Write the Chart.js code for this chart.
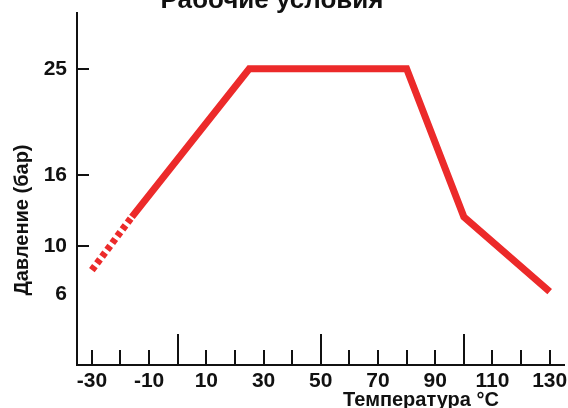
<!DOCTYPE html>
<html>
<head>
<meta charset="utf-8">
<script src="https://cdn.jsdelivr.net/npm/chart.js@4.4.1/dist/chart.umd.min.js"></script>
<style>
    html, body { margin: 0; padding: 0; background: #fff; }
    #wrap { width: 568px; height: 408px; position: relative; }
</style>
</head>
<body>
<div id="wrap"><canvas id="chart"></canvas></div>
<script>
// --- Data ---
const temps = [-30, -16, 25, 80, 100, 130];
const pressures = [8, 12.5, 25, 25, 12.5, 6.2];
const xLabelTicks = [-30, -10, 10, 30, 50, 70, 90, 110, 130];
const yLabelTicks = [6, 10, 16, 25];
const yTickMarks = [10, 16, 25];
const xMinorMarks = [-30, -20, -10, 10, 20, 30, 40, 60, 70, 80, 90, 110, 120, 130];
const xMajorMarks = [0, 50, 100];

const chartTitle = 'Рабочие условия';
const xTitle = 'Температура °C';
const yTitle = 'Давление (бар)';

const ink = '#111';
const red = '#ec2a2a';
const font = '"Liberation Sans", Arial, sans-serif';

// Draws the inward tick marks and the titles
const decor = {
    id: 'decor',
    afterDraw(chart) {
        const { ctx, chartArea, scales } = chart;
        const x = scales.x, y = scales.y;
        ctx.save();
        ctx.strokeStyle = ink;
        ctx.lineWidth = 2;
        ctx.beginPath();
        xMinorMarks.forEach(v => {
            const px = Math.round(x.getPixelForValue(v));
            ctx.moveTo(px, chartArea.bottom);
            ctx.lineTo(px, chartArea.bottom - 15);
        });
        xMajorMarks.forEach(v => {
            const px = Math.round(x.getPixelForValue(v));
            ctx.moveTo(px, chartArea.bottom);
            ctx.lineTo(px, chartArea.bottom - 31);
        });
        yTickMarks.forEach(v => {
            const py = Math.round(y.getPixelForValue(v));
            ctx.moveTo(chartArea.left, py);
            ctx.lineTo(chartArea.left + 12, py);
        });
        ctx.stroke();

        ctx.fillStyle = ink;
        ctx.textAlign = 'center';
        ctx.textBaseline = 'alphabetic';
        ctx.font = 'bold 26px ' + font;
        ctx.fillText(chartTitle, 272, 8);

        ctx.font = 'bold 20px ' + font;
        ctx.fillText(xTitle, 421, 406);

        ctx.translate(28, 220);
        ctx.rotate(-Math.PI / 2);
        ctx.font = 'bold 20px ' + font;
        ctx.fillText(yTitle, 0, 0);
        ctx.restore();
    }
};

new Chart(document.getElementById('chart'), {
    type: 'line',
    data: {
        datasets: [{
            data: temps.map((t, i) => ({ x: t, y: pressures[i] })),
            borderColor: red,
            borderWidth: 7,
            borderCapStyle: 'butt',
            borderJoinStyle: 'miter',
            pointRadius: 0,
            tension: 0,
            segment: {
                borderDash: ctx => ctx.p0DataIndex === 0 ? [5, 3.5] : undefined
            }
        }]
    },
    options: {
        responsive: true,
        maintainAspectRatio: false,
        animation: false,
        layout: { padding: { top: 13, right: 4, left: 0, bottom: 0 } },
        plugins: {
            legend: { display: false },
            tooltip: { enabled: false },
            title: { display: false }
        },
        scales: {
            x: {
                type: 'linear',
                min: -35.2,
                max: 135,
                afterBuildTicks: s => { s.ticks = xLabelTicks.map(v => ({ value: v })); },
                afterFit: s => { s.height = 43; s.paddingLeft = 0; s.paddingRight = 0; },
                grid: { display: false, drawTicks: false },
                border: { color: ink, width: 2 },
                ticks: {
                    color: ink,
                    padding: 4,
                    maxRotation: 0,
                    font: { family: font, size: 21, weight: 'bold' }
                }
            },
            y: {
                type: 'linear',
                min: 0,
                max: 29.7,
                afterBuildTicks: s => { s.ticks = yLabelTicks.map(v => ({ value: v })); },
                afterFit: s => { s.width = 77; s.paddingTop = 0; s.paddingBottom = 0; },
                grid: { display: false, drawTicks: false },
                border: { color: ink, width: 2 },
                ticks: {
                    color: ink,
                    padding: 10,
                    font: { family: font, size: 21, weight: 'bold' }
                }
            }
        }
    },
    plugins: [decor]
});
</script>
</body>
</html>
